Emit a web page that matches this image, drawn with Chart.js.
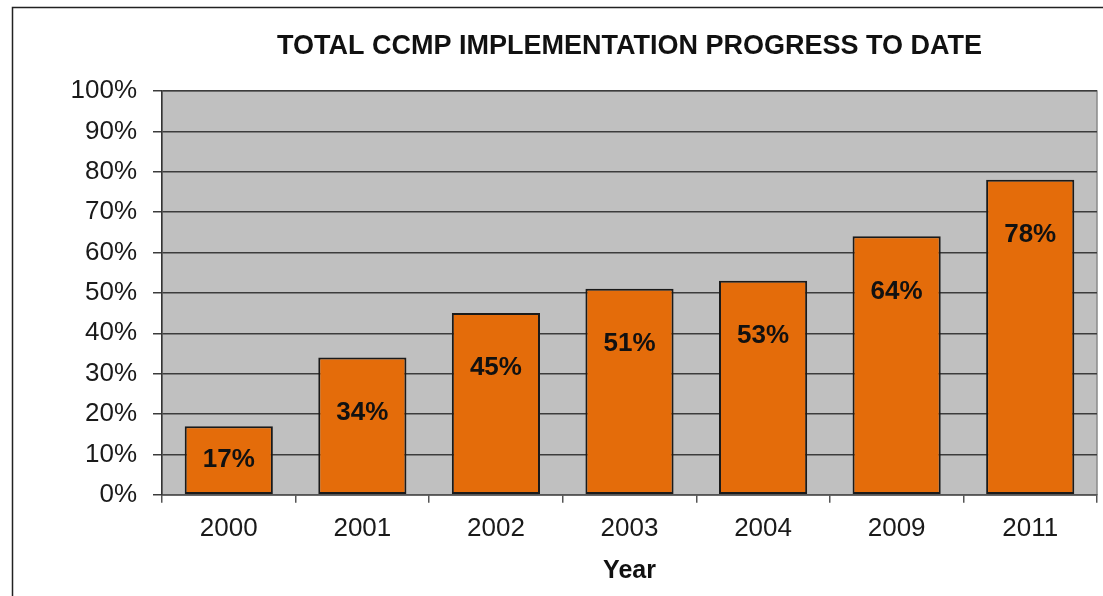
<!DOCTYPE html>
<html>
<head>
<meta charset="utf-8">
<script src="https://cdn.jsdelivr.net/npm/chart.js@4.4.0/dist/chart.umd.min.js"></script>
<style>
  html, body { margin: 0; padding: 0; background: #fff; }
  #wrap { width: 1103px; height: 596px; position: relative; }
</style>
</head>
<body>
<div id="wrap"><canvas id="progressChart" width="1103" height="596"></canvas></div>
<script>
// chart data
const chartTitle = 'TOTAL CCMP IMPLEMENTATION PROGRESS TO DATE';
const years = ['2000', '2001', '2002', '2003', '2004', '2009', '2011'];
const progress = [17, 34, 45, 51, 53, 64, 78];
const yTicks = [0, 10, 20, 30, 40, 50, 60, 70, 80, 90, 100];

const FONT = '"Liberation Sans", Arial, sans-serif';

// outer frame, grey plot background, title centred over the plot
const backdrop = {
    id: 'backdrop',
    beforeDraw(chart) {
        const ctx = chart.ctx;
        const a = chart.chartArea;
        ctx.save();
        ctx.strokeStyle = '#222';
        ctx.lineWidth = 1.5;
        ctx.beginPath();
        ctx.moveTo(12.5, 700);
        ctx.lineTo(12.5, 7.5);
        ctx.lineTo(1200, 7.5);
        ctx.stroke();
        ctx.fillStyle = '#c0c0c0';
        ctx.fillRect(a.left, a.top, a.right - a.left, a.bottom - a.top);
        ctx.strokeStyle = '#8a8a8a';
        ctx.lineWidth = 1.5;
        ctx.strokeRect(a.left, a.top, a.right - a.left, a.bottom - a.top);

        ctx.font = 'bold 27px ' + FONT;
        ctx.fillStyle = '#111';
        ctx.textAlign = 'center';
        ctx.textBaseline = 'middle';
        ctx.fillText(chartTitle, (a.left + a.right) / 2, 47);
        ctx.restore();
    }
};

// value labels inside the bars
const barLabels = {
    id: 'barLabels',
    afterDatasetsDraw(chart) {
        const ctx = chart.ctx;
        const meta = chart.getDatasetMeta(0);
        ctx.save();
        ctx.font = 'bold 26px ' + FONT;
        ctx.fillStyle = '#111';
        ctx.textAlign = 'center';
        ctx.textBaseline = 'middle';
        meta.data.forEach((bar, i) => {
            const mid = (bar.y + bar.base) / 2;
            const y = Math.min(mid, bar.y + 55);
            ctx.fillText(progress[i] + '%', bar.x, y);
        });
        ctx.restore();
    }
};

const ctx = document.getElementById('progressChart').getContext('2d');
new Chart(ctx, {
    type: 'bar',
    data: {
        labels: years,
        datasets: [{
            data: progress,
            backgroundColor: '#e46c0a',
            borderColor: '#1a1a1a',
            borderWidth: 2,
            borderSkipped: false,
            barPercentage: 0.66,
            categoryPercentage: 1
        }]
    },
    options: {
        responsive: false,
        animation: false,
        layout: { padding: { left: 0, right: 6, top: 91, bottom: 10 } },
        plugins: {
            legend: { display: false },
            tooltip: { enabled: false },
            title: { display: false }
        },
        scales: {
            x: {
                grid: { offset: true, drawOnChartArea: false, color: '#555', tickLength: 8, lineWidth: 1.5 },
                border: { color: '#555', width: 1.5 },
                ticks: {
                    color: '#1a1a1a',
                    padding: 10,
                    font: { family: FONT, size: 26 }
                },
                title: {
                    display: true,
                    text: 'Year',
                    color: '#111',
                    padding: { top: 2, bottom: 0 },
                    font: { family: FONT, size: 25, weight: 'bold' }
                }
            },
            y: {
                min: 0,
                max: 100,
                afterFit(scale) { scale.width = 162; },
                afterBuildTicks(scale) { scale.ticks = yTicks.map(v => ({ value: v })); },
                grid: { color: '#3c3c3c', lineWidth: 1.5, tickLength: 9 },
                border: { color: '#333', width: 1.5 },
                ticks: {
                    color: '#1a1a1a',
                    padding: 16,
                    font: { family: FONT, size: 26 },
                    callback: v => v + '%'
                }
            }
        }
    },
    plugins: [backdrop, barLabels]
});
</script>
</body>
</html>
